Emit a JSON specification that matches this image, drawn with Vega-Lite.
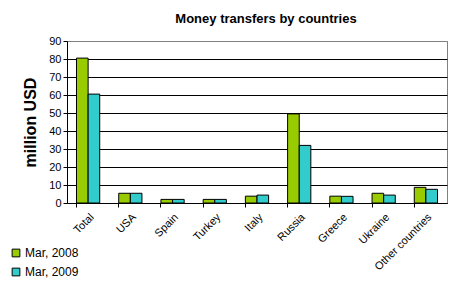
{
  "$schema": "https://vega.github.io/schema/vega-lite/v6.json",
  "autosize": "none",
  "width": 380,
  "height": 162,
  "padding": {"left": 67, "top": 41, "right": 29, "bottom": 86},
  "background": "white",
  "title": {
    "text": "Money transfers by countries",
    "font": "Liberation Sans",
    "fontSize": 13,
    "fontWeight": "bold",
    "color": "black",
    "anchor": "middle",
    "dx": 9,
    "offset": 9
  },
  "data": {
    "values": [
      {"country": "Total", "period": "Mar, 2008", "value": 80.5},
      {"country": "Total", "period": "Mar, 2009", "value": 60.5},
      {"country": "USA", "period": "Mar, 2008", "value": 5.4},
      {"country": "USA", "period": "Mar, 2009", "value": 5.4},
      {"country": "Spain", "period": "Mar, 2008", "value": 2.0},
      {"country": "Spain", "period": "Mar, 2009", "value": 2.0},
      {"country": "Turkey", "period": "Mar, 2008", "value": 2.0},
      {"country": "Turkey", "period": "Mar, 2009", "value": 2.0},
      {"country": "Italy", "period": "Mar, 2008", "value": 3.8},
      {"country": "Italy", "period": "Mar, 2009", "value": 4.4},
      {"country": "Russia", "period": "Mar, 2008", "value": 49.5},
      {"country": "Russia", "period": "Mar, 2009", "value": 32.0},
      {"country": "Greece", "period": "Mar, 2008", "value": 3.8},
      {"country": "Greece", "period": "Mar, 2009", "value": 3.7},
      {"country": "Ukraine", "period": "Mar, 2008", "value": 5.4},
      {"country": "Ukraine", "period": "Mar, 2009", "value": 4.4},
      {"country": "Other countries", "period": "Mar, 2008", "value": 8.7},
      {"country": "Other countries", "period": "Mar, 2009", "value": 7.6}
    ]
  },
  "mark": {"type": "bar", "stroke": "black", "strokeWidth": 1},
  "encoding": {
    "x": {
      "field": "country",
      "type": "nominal",
      "sort": null,
      "scale": {"paddingInner": 0.45, "paddingOuter": 0.225},
      "axis": {
        "title": null,
        "bandPosition": 0,
        "labelAngle": -45,
        "labelAlign": "right",
        "labelBaseline": "top",
        "labelFont": "Liberation Sans",
        "labelFontSize": 11,
        "labelColor": "black",
        "labelPadding": 4,
        "domainColor": "black",
        "tickColor": "black",
        "tickSize": 4,
        "grid": false
      }
    },
    "xOffset": {"field": "period", "type": "nominal"},
    "y": {
      "field": "value",
      "type": "quantitative",
      "scale": {"domain": [0, 90], "nice": false},
      "axis": {
        "title": "million USD",
        "titleFont": "Liberation Sans",
        "titleFontSize": 16,
        "titleFontWeight": "bold",
        "titleColor": "black",
        "titlePadding": 10,
        "values": [0, 10, 20, 30, 40, 50, 60, 70, 80, 90],
        "labelFont": "Liberation Sans",
        "labelFontSize": 11,
        "labelColor": "black",
        "labelPadding": 2,
        "domainColor": "black",
        "tickColor": "black",
        "tickSize": 4,
        "grid": true,
        "gridColor": {"condition": {"test": "datum.value == 90", "value": "#808080"}, "value": "black"},
        "gridOpacity": 1
      }
    },
    "color": {
      "field": "period",
      "type": "nominal",
      "scale": {"domain": ["Mar, 2008", "Mar, 2009"], "range": ["#99CC00", "#33CCCC"]},
      "legend": {
        "title": null,
        "orient": "none",
        "legendX": -57,
        "legendY": 206,
        "symbolType": "square",
        "symbolSize": 60,
        "symbolStrokeColor": "black",
        "symbolStrokeWidth": 1,
        "labelFont": "Liberation Sans",
        "labelFontSize": 12,
        "labelColor": "black",
        "rowPadding": 7,
        "labelOffset": 3
      }
    }
  },
  "config": {
    "view": {"stroke": "#808080", "strokeWidth": 1}
  }
}
